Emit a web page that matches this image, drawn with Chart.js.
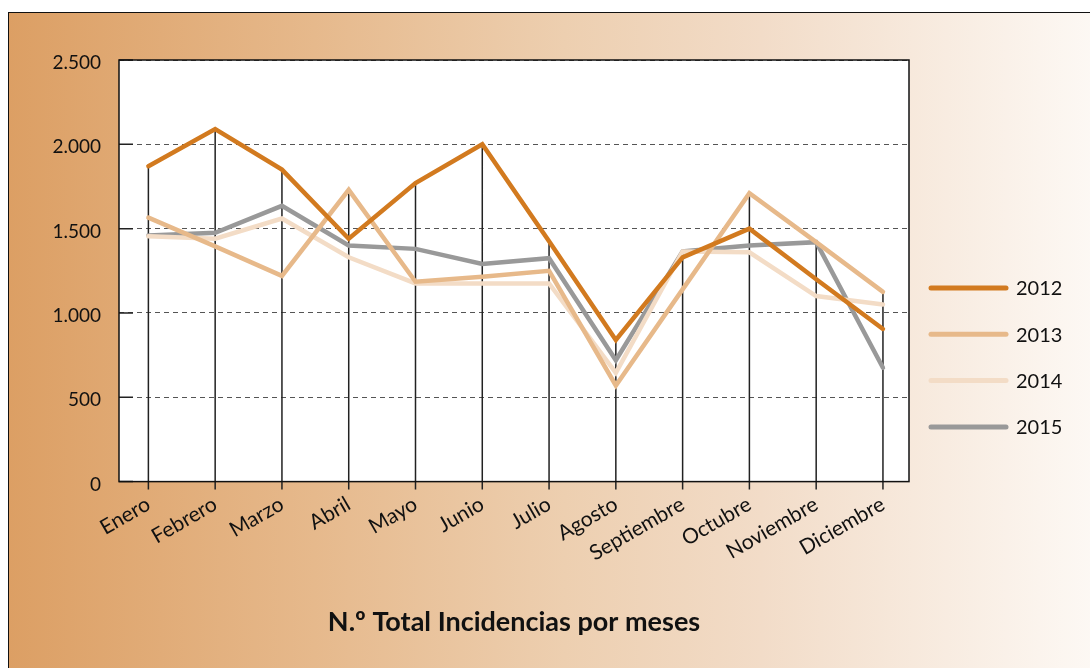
<!DOCTYPE html>
<html>
<head>
<meta charset="utf-8">
<script src="https://cdn.jsdelivr.net/npm/chart.js@4.4.0/dist/chart.umd.min.js"></script>
<style>
  html, body { margin: 0; padding: 0; background: #fff; }
  #frame {
    position: absolute; left: 8px; top: 12px; width: 1090px; height: 700px;
    border-left: 1.5px solid #111; border-top: 1.5px solid #111;
    background: linear-gradient(to right, #dc9f64 0%, #e6b98c 28%, #edcfb0 51%, #f2dcc8 69%, #fdf9f5 100%);
  }
  #wrap { position: absolute; left: 0; top: 0; width: 1090px; height: 668px; }
</style>
</head>
<body>
<div id="frame"></div>
<div id="wrap"><canvas id="myChartLine" width="1090" height="668"></canvas></div>
<script>
const months = ['Enero','Febrero','Marzo','Abril','Mayo','Junio','Julio','Agosto','Septiembre','Octubre','Noviembre','Diciembre']
const years = ['2012','2013','2014','2015']
const data2012 = [1870, 2090, 1850, 1440, 1770, 2000, 1425, 840, 1330, 1500, 1200, 905]
const data2013 = [1565, 1395, 1220, 1730, 1185, 1215, 1250, 570, 1140, 1710, 1420, 1125]
const data2014 = [1455, 1440, 1560, 1330, 1175, 1175, 1175, 645, 1365, 1360, 1100, 1050]
const data2015 = [1460, 1475, 1635, 1400, 1380, 1290, 1325, 720, 1365, 1400, 1420, 675]
const yTicks = [0, 500, 1000, 1500, 2000, 2500]
const colors = ['#d27a1f', '#e7b98a', '#f3dcc6', '#999999']

const fmt = v => String(v).replace(/\B(?=(\d{3})+(?!\d))/g, '.')
const toPoints = arr => arr.map((v, i) => ({x: i, y: v}))
const font = 'Lato'

// plot frame, drop lines, inner ticks and the legend
const decor = {
    id: 'decor',
    beforeDraw(chart) {
        const {ctx, chartArea: a} = chart
        ctx.save()
        ctx.fillStyle = '#fff'
        ctx.fillRect(a.left, a.top, a.width, a.height)
        ctx.restore()
    },
    beforeDatasetsDraw(chart) {
        const {ctx, chartArea: a, scales} = chart
        ctx.save()
        ctx.strokeStyle = '#222'
        ctx.lineWidth = 1.5
        ctx.beginPath()
        months.forEach((m, i) => {
            const top = Math.max(...chart.data.datasets.map(d => d.data[i].y))
            const px = scales.x.getPixelForValue(i)
            ctx.moveTo(px, scales.y.getPixelForValue(top))
            ctx.lineTo(px, a.bottom + 8)
        })
        yTicks.forEach(t => {
            const py = scales.y.getPixelForValue(t)
            ctx.moveTo(a.left, py)
            ctx.lineTo(a.left + 14, py)
        })
        ctx.stroke()
        ctx.strokeStyle = '#111'
        ctx.strokeRect(a.left, a.top, a.width, a.height)
        ctx.restore()
    },
    afterDraw(chart) {
        const {ctx, chartArea: a} = chart
        ctx.save()
        chart.data.datasets.forEach((d, i) => {
            const y = 288 + i * 46.3
            ctx.strokeStyle = d.borderColor
            ctx.lineWidth = 5
            ctx.lineCap = 'round'
            ctx.beginPath()
            ctx.moveTo(a.right + 22, y)
            ctx.lineTo(a.right + 97, y)
            ctx.stroke()
            ctx.fillStyle = '#111'
            ctx.font = '20px ' + font
            ctx.textBaseline = 'middle'
            ctx.fillText(d.label, a.right + 107, y + 1)
        })
        ctx.restore()
    }
}

let myChart = document.getElementById('myChartLine').getContext('2d')

let linesChart = new Chart(myChart, {
    type: 'line',
    data: {
        datasets: [
            {label: years[0], data: toPoints(data2012), borderColor: colors[0], backgroundColor: colors[0]},
            {label: years[1], data: toPoints(data2013), borderColor: colors[1], backgroundColor: colors[1]},
            {label: years[2], data: toPoints(data2014), borderColor: colors[2], backgroundColor: colors[2]},
            {label: years[3], data: toPoints(data2015), borderColor: colors[3], backgroundColor: colors[3]}
        ]
    },
    options: {
        responsive: false,
        animation: false,
        devicePixelRatio: 1,
        elements: {
            line: {borderWidth: 4.5, tension: 0, borderCapStyle: 'round'},
            point: {radius: 0, hoverRadius: 0}
        },
        layout: {padding: {left: 0, top: 60, right: 181, bottom: 0}},
        scales: {
            x: {
                type: 'linear',
                min: -0.44, max: 11.39,
                grid: {display: false, drawTicks: true, tickLength: 8},
                border: {display: false},
                afterBuildTicks(s) {
                    s.ticks = months.map((m, i) => ({value: i}))
                },
                ticks: {
                    minRotation: 30, maxRotation: 30, padding: 2, autoSkip: false,
                    color: '#111', font: {family: font, size: 21},
                    callback: v => months[v]
                },
                afterFit(s) { s.height = 100 }
            },
            y: {
                min: 0, max: 2500,
                grid: {color: '#555', lineWidth: 1, drawTicks: false},
                border: {display: false, dash: [5, 4]},
                ticks: {
                    stepSize: 500, padding: 18, color: '#111', labelOffset: 3,
                    font: {family: font, size: 19},
                    callback: v => fmt(v)
                },
                afterFit(s) { s.width = 119 }
            }
        },
        plugins: {
            legend: {display: false},
            tooltip: {enabled: false},
            title: {
                display: true,
                position: 'bottom',
                fullSize: false,
                text: 'N.º Total Incidencias por meses',
                color: '#111',
                font: {family: font, size: 27, weight: 'bold'},
                padding: {top: 24, bottom: 30}
            }
        }
    },
    plugins: [decor]
})
</script>
</body>
</html>
